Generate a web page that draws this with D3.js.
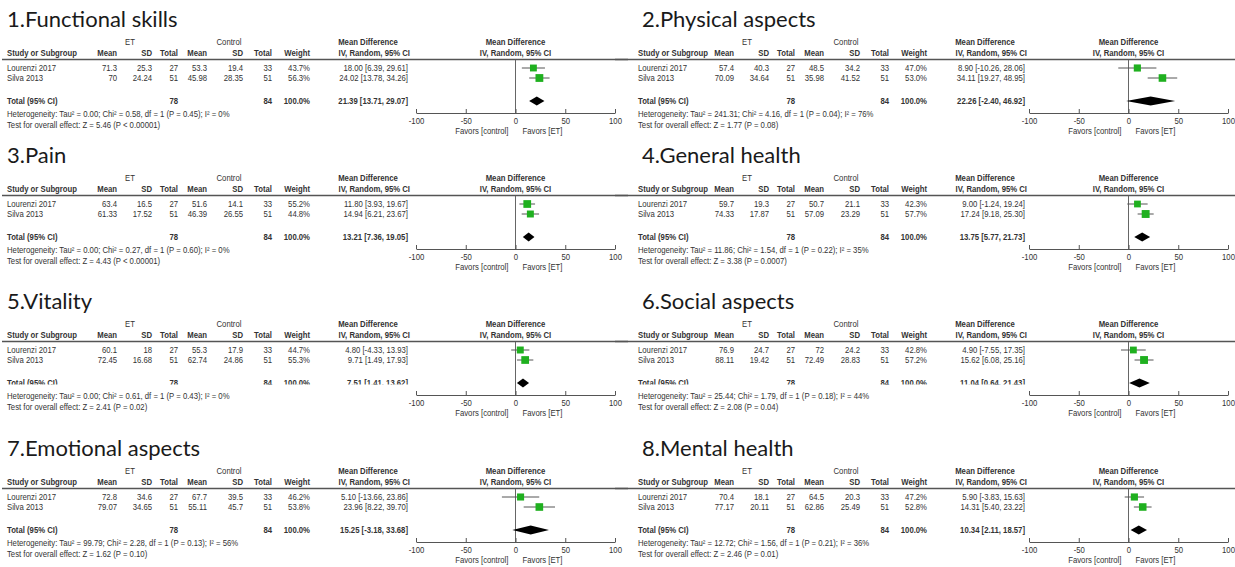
<!DOCTYPE html>
<html>
<head>
<meta charset="utf-8">
<script src="https://cdnjs.cloudflare.com/ajax/libs/d3/7.8.5/d3.min.js"></script>
<style>
  body { margin: 0; background: #fff; }
  svg { display: block; }
  .t { font-family: 'Liberation Sans', Arial, sans-serif; font-size: 8.6px; fill: #333; }
  .b { font-weight: bold; }
  .title { font-family: Lato, 'Open Sans', sans-serif; font-size: 22px; fill: #1a1a1a; }
</style>
</head>
<body>
<script>
// outcome titles
const titles = ['1.Functional skills', '2.Physical aspects', '3.Pain', '4.General health',
  '5.Vitality', '6.Social aspects', '7.Emotional aspects', '8.Mental health'];
const studies = ['Lourenzi 2017', 'Silva 2013'];

// per outcome: [Lourenzi 2017, Silva 2013]
const etMean = [[71.3, 70], [57.4, 70.09], [63.4, 61.33], [59.7, 74.33], [60.1, 72.45], [76.9, 88.11], [72.8, 79.07], [70.4, 77.17]];
const etSD = [[25.3, 24.24], [40.3, 34.64], [16.5, 17.52], [19.3, 17.87], [18, 16.68], [24.7, 19.42], [34.6, 34.65], [18.1, 20.11]];
const etN = [27, 51];
const ctMean = [[53.3, 45.98], [48.5, 35.98], [51.6, 46.39], [50.7, 57.09], [55.3, 62.74], [72, 72.49], [67.7, 55.11], [64.5, 62.86]];
const ctSD = [[19.4, 28.35], [34.2, 41.52], [14.1, 26.55], [21.1, 23.29], [17.9, 24.86], [24.2, 28.83], [39.5, 45.7], [20.3, 25.49]];
const ctN = [33, 51];
const weight = [[43.7, 56.3], [47.0, 53.0], [55.2, 44.8], [42.3, 57.7], [44.7, 55.3], [42.8, 57.2], [46.2, 53.8], [47.2, 52.8]];
const md = [[18.00, 24.02], [8.90, 34.11], [11.80, 14.94], [9.00, 17.24], [4.80, 9.71], [4.90, 15.62], [5.10, 23.96], [5.90, 14.31]];
const ciLow = [[6.39, 13.78], [-10.26, 19.27], [3.93, 6.21], [-1.24, 9.18], [-4.33, 1.49], [-7.55, 6.08], [-13.66, 8.22], [-3.83, 5.40]];
const ciHigh = [[29.61, 34.26], [28.06, 48.95], [19.67, 23.67], [19.24, 25.30], [13.93, 17.93], [17.35, 25.16], [23.86, 39.70], [15.63, 23.22]];

// pooled results
const totalMd = [21.39, 22.26, 13.21, 13.75, 7.51, 11.04, 15.25, 10.34];
const totalLow = [13.71, -2.40, 7.36, 5.77, 1.41, 0.64, -3.18, 2.11];
const totalHigh = [29.07, 46.92, 19.05, 21.73, 13.62, 21.43, 33.68, 18.57];
const tau2 = ['0.00', '241.31', '0.00', '11.86', '0.00', '25.44', '99.79', '12.72'];
const chi2 = ['0.58', '4.16', '0.27', '1.54', '0.61', '1.79', '2.28', '1.56'];
const pHet = ['0.45', '0.04', '0.60', '0.22', '0.43', '0.18', '0.13', '0.21'];
const i2 = [0, 76, 0, 35, 0, 44, 56, 36];
const zVal = ['5.46', '1.77', '4.43', '3.38', '2.41', '2.08', '1.62', '2.46'];
const pVal = ['< 0.00001', '= 0.08', '< 0.00001', '= 0.0007', '= 0.02', '= 0.04', '= 0.10', '= 0.01'];

const axisTicks = [-100, -50, 0, 50, 100];

const width = 1235, height = 567;
const svg = d3.select('body').append('svg').attr('width', width).attr('height', height);

const rowTop = [0, 136, 282, 429];
const colLeft = [
  { title: 7, text: 7, cols: 0, plot: 0 },
  { title: 642, text: 638, cols: 617, plot: 613 }
];

// the pooled row of the third pair of panels is cut off at the bottom in the source
svg.append('clipPath').attr('id', 'cutTotal')
  .append('rect').attr('x', 0).attr('y', 0).attr('width', width).attr('height', 102.5);

function txt(g, x, y, s, anchor, bold) {
  return g.append('text')
    .attr('class', bold ? 't b' : 't')
    .attr('transform', `translate(${x},${y}) scale(0.9,1)`)
    .attr('text-anchor', anchor || 'start')
    .text(s);
}

const f2 = (v) => v.toFixed(2);
const ciText = (m, l, h) => `${f2(m)} [${f2(l)}, ${f2(h)}]`;

titles.forEach((title, i) => {
  const L = colLeft[i % 2];
  const row = Math.floor(i / 2);
  const g = svg.append('g').attr('transform', `translate(0,${rowTop[row]})`);
  const c = (x) => x + L.cols;

  g.append('text').attr('class', 'title').attr('x', L.title).attr('y', 27).text(title);

  // headers
  txt(g, c(130), 45, 'ET', 'middle');
  txt(g, c(229), 45, 'Control', 'middle');
  txt(g, c(368), 45, 'Mean Difference', 'middle', true);
  txt(g, L.text, 56, 'Study or Subgroup', 'start', true);
  [['Mean', 117], ['SD', 152], ['Total', 178], ['Mean', 207], ['SD', 243], ['Total', 272], ['Weight', 310]]
    .forEach(([s, x]) => txt(g, c(x), 56, s, 'end', true));
  txt(g, c(410), 56, 'IV, Random, 95% CI', 'end', true);

  g.append('line').attr('x1', L.plot + 2).attr('x2', L.plot + 628)
    .attr('y1', 59.5).attr('y2', 59.5).attr('stroke', '#555').attr('stroke-width', 1.3);

  // study rows
  const rowY = [71, 81];
  studies.forEach((s, k) => {
    const y = rowY[k];
    txt(g, L.text, y, s);
    txt(g, c(117), y, String(etMean[i][k]), 'end');
    txt(g, c(152), y, String(etSD[i][k]), 'end');
    txt(g, c(178), y, String(etN[k]), 'end');
    txt(g, c(207), y, String(ctMean[i][k]), 'end');
    txt(g, c(243), y, String(ctSD[i][k]), 'end');
    txt(g, c(272), y, String(ctN[k]), 'end');
    txt(g, c(310), y, weight[i][k].toFixed(1) + '%', 'end');
    txt(g, c(408), y, ciText(md[i][k], ciLow[i][k], ciHigh[i][k]), 'end');
  });

  // total row
  const tg = g.append('g');
  if (row === 2) tg.attr('clip-path', 'url(#cutTotal)');
  txt(tg, L.text, 104, 'Total (95% CI)', 'start', true);
  txt(tg, c(178), 104, String(d3.sum(etN)), 'end', true);
  txt(tg, c(272), 104, String(d3.sum(ctN)), 'end', true);
  txt(tg, c(310), 104, d3.sum(weight[i]).toFixed(1) + '%', 'end', true);
  txt(tg, c(408), 104, ciText(totalMd[i], totalLow[i], totalHigh[i]), 'end', true);

  txt(g, L.text, 117, `Heterogeneity: Tau\u00b2 = ${tau2[i]}; Chi\u00b2 = ${chi2[i]}, df = 1 (P = ${pHet[i]}); I\u00b2 = ${i2[i]}%`);
  txt(g, L.text, 128, `Test for overall effect: Z = ${zVal[i]} (P ${pVal[i]})`);

  // forest plot
  const x = d3.scaleLinear().domain([-100, 100]).range([416 + L.plot, 615 + L.plot]);
  const axisY = 113;

  txt(g, x(0), 45, 'Mean Difference', 'middle', true);
  txt(g, x(0), 56, 'IV, Random, 95% CI', 'middle', true);

  g.append('line').attr('x1', x(0)).attr('x2', x(0)).attr('y1', 60).attr('y2', axisY)
    .attr('stroke', '#666').attr('stroke-width', 1);

  const marks = studies.map((s, k) => ({ y: rowY[k] - 3, m: md[i][k], lo: ciLow[i][k], hi: ciHigh[i][k], w: weight[i][k] }));
  g.selectAll('.ci').data(marks).join('line')
    .attr('x1', (d) => x(d.lo)).attr('x2', (d) => x(d.hi))
    .attr('y1', (d) => d.y).attr('y2', (d) => d.y)
    .attr('stroke', '#555').attr('stroke-width', 1);
  g.selectAll('.sq').data(marks).join('rect')
    .attr('x', (d) => x(d.m) - Math.sqrt(d.w) * 0.52)
    .attr('y', (d) => d.y - Math.sqrt(d.w) * 0.52)
    .attr('width', (d) => Math.sqrt(d.w) * 1.04)
    .attr('height', (d) => Math.sqrt(d.w) * 1.04)
    .attr('fill', '#1fb01f');

  const dy = 101;
  g.append('path')
    .attr('d', `M${x(totalLow[i])},${dy} L${x(totalMd[i])},${dy - 4.5} L${x(totalHigh[i])},${dy} L${x(totalMd[i])},${dy + 4.5} Z`)
    .attr('fill', '#000');

  const axis = g.append('g').attr('transform', `translate(0,${axisY})`)
    .call(d3.axisBottom(x).tickValues(axisTicks).tickFormat((d) => String(d))
      .tickSizeInner(-4).tickSizeOuter(0).tickPadding(5));
  axis.select('.domain').attr('stroke', '#555');
  axis.selectAll('.tick line').attr('stroke', '#555');
  axis.selectAll('.tick text')
    .attr('font-family', "'Liberation Sans', Arial, sans-serif")
    .attr('font-size', 8.6).attr('fill', '#333')
    .attr('transform', 'scale(0.9,1)');

  txt(g, x(0) - 7, 134, 'Favors [control]', 'end');
  txt(g, x(0) + 7, 134, 'Favors [ET]', 'start');
});
</script>
</body>
</html>
